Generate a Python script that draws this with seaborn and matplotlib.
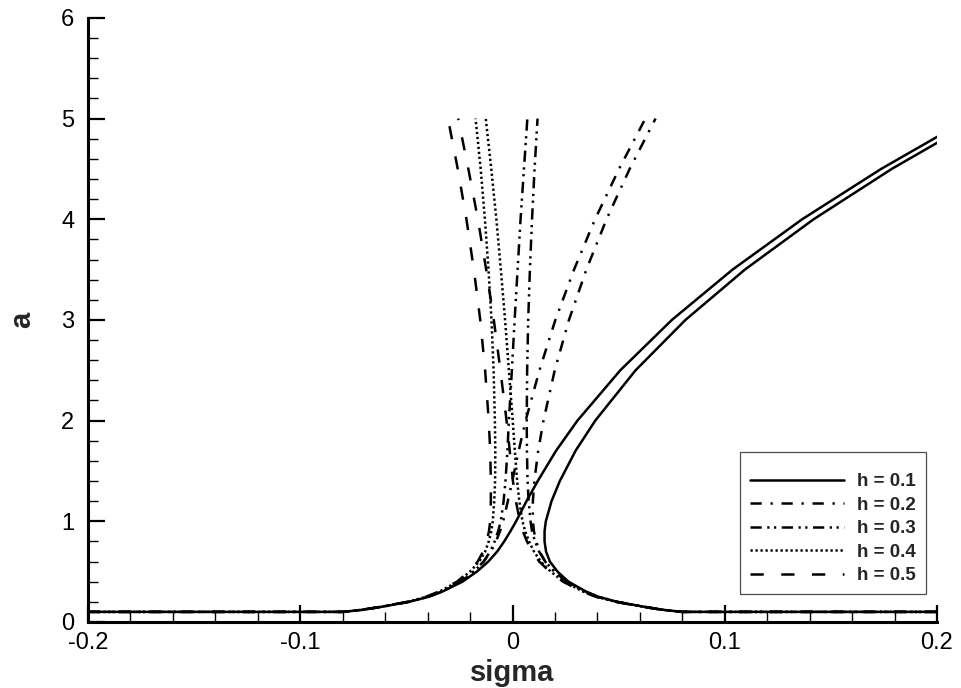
import pandas as pd
import matplotlib
matplotlib.use("Agg")
import matplotlib.pyplot as plt
import seaborn as sns
from matplotlib.ticker import MultipleLocator

# amplitude levels (first entry repeated: flat part of the curve at a = 0.1)
a_levels = [0.1, 0.1, 0.12, 0.15, 0.2, 0.25, 0.3, 0.4, 0.5, 0.6, 0.7, 0.8, 0.9,
            1.0, 1.2, 1.4, 1.7, 2.0, 2.5, 3.0, 3.5, 4.0, 4.5, 5.0]

# sigma, left and right branch of each curve
h01_left = [-0.2, -0.0799, -0.0709, -0.0618, -0.0487, -0.0395, -0.0332, -0.0236, -0.0168,
            -0.0114, -0.0072, -0.0039, -0.0010, 0.0017, 0.0066, 0.0119, 0.0205, 0.0306,
            0.0508, 0.0751, 0.1037, 0.1365, 0.1737, 0.2151]
h01_right = [0.2, 0.0801, 0.0711, 0.0622, 0.0493, 0.0405, 0.0348, 0.0264, 0.0212,
             0.0176, 0.0158, 0.0151, 0.0151, 0.0157, 0.0184, 0.0223, 0.0297, 0.0390,
             0.0580, 0.0815, 0.1095, 0.1419, 0.1787, 0.2199]
h02_left = [-0.2, -0.0800, -0.0710, -0.0619, -0.0489, -0.0398, -0.0338, -0.0246, -0.0184,
            -0.0136, -0.0102, -0.0078, -0.0059, -0.0044, -0.0022, -0.0001, 0.0029, 0.0062,
            0.0127, 0.0202, 0.0290, 0.0389, 0.0502, 0.0626]
h02_right = [0.2, 0.0800, 0.0710, 0.0621, 0.0491, 0.0402, 0.0342, 0.0254, 0.0197,
             0.0154, 0.0128, 0.0112, 0.0101, 0.0096, 0.0096, 0.0103, 0.0121, 0.0146,
             0.0199, 0.0266, 0.0348, 0.0443, 0.0552, 0.0674]
h03_left = [-0.2, -0.0798, -0.0708, -0.0617, -0.0487, -0.0396, -0.0335, -0.0244, -0.0182,
            -0.0136, -0.0105, -0.0084, -0.0068, -0.0055, -0.0042, -0.0033, -0.0024, -0.0017,
            -0.0003, 0.0010, 0.0024, 0.0038, 0.0054, 0.0070]
h03_right = [0.2, 0.0802, 0.0712, 0.0623, 0.0493, 0.0404, 0.0345, 0.0256, 0.0198,
             0.0154, 0.0125, 0.0106, 0.0092, 0.0085, 0.0076, 0.0071, 0.0068, 0.0067,
             0.0069, 0.0074, 0.0082, 0.0092, 0.0104, 0.0118]
h04_left = [-0.2, -0.0802, -0.0712, -0.0623, -0.0494, -0.0405, -0.0346, -0.0258, -0.0200,
            -0.0157, -0.0129, -0.0112, -0.0100, -0.0093, -0.0086, -0.0082, -0.0081, -0.0083,
            -0.0089, -0.0099, -0.0113, -0.0130, -0.0150, -0.0174]
h04_right = [0.2, 0.0798, 0.0708, 0.0617, 0.0486, 0.0395, 0.0334, 0.0242, 0.0180,
             0.0133, 0.0101, 0.0078, 0.0060, 0.0047, 0.0032, 0.0022, 0.0011, 0.0001,
             -0.0017, -0.0035, -0.0055, -0.0076, -0.0100, -0.0126]
h05_left = [-0.2, -0.0803, -0.0714, -0.0625, -0.0496, -0.0408, -0.0349, -0.0262, -0.0205,
            -0.0164, -0.0138, -0.0122, -0.0111, -0.0105, -0.0102, -0.0102, -0.0105, -0.0112,
            -0.0129, -0.0152, -0.0182, -0.0217, -0.0258, -0.0304]
h05_right = [0.2, 0.0797, 0.0706, 0.0615, 0.0484, 0.0392, 0.0331, 0.0238, 0.0175,
             0.0126, 0.0092, 0.0068, 0.0049, 0.0035, 0.0016, 0.0002, -0.0013, -0.0028,
             -0.0057, -0.0088, -0.0124, -0.0163, -0.0208, -0.0256]

h_labels = ["h = 0.1", "h = 0.2", "h = 0.3", "h = 0.4", "h = 0.5"]
branches = {
    "h = 0.1": (h01_left, h01_right),
    "h = 0.2": (h02_left, h02_right),
    "h = 0.3": (h03_left, h03_right),
    "h = 0.4": (h04_left, h04_right),
    "h = 0.5": (h05_left, h05_right),
}

x_ticks = [-0.2, -0.1, 0, 0.1, 0.2]
x_tick_labels = ["-0.2", "-0.1", "0", "0.1", "0.2"]
y_ticks = [0, 1, 2, 3, 4, 5, 6]
y_tick_labels = ["0", "1", "2", "3", "4", "5", "6"]

frames = []
for h in h_labels:
    left, right = branches[h]
    for name, sig in (("left", left), ("right", right)):
        frames.append(pd.DataFrame({"sigma": sig, "a": a_levels, "h": h,
                                    "branch": h + name}))
df = pd.concat(frames, ignore_index=True)

"""
plot
"""
sns.set_theme(style="white")
plt.rcParams["font.family"] = ["Liberation Sans", "DejaVu Sans"]
plt.rcParams["axes.unicode_minus"] = False

dash_styles = {
    "h = 0.1": "",
    "h = 0.2": (4.5, 3.5, 0.9, 3.5),
    "h = 0.3": (4.5, 2.2, 0.9, 1.8, 0.9, 2.2),
    "h = 0.4": (0.9, 1.1),
    "h = 0.5": (5.3, 7),
}

fig, ax = plt.subplots(figsize=(9.61, 6.88), dpi=100)
fig.subplots_adjust(left=0.0916, right=0.975, bottom=0.096, top=0.974)

sns.lineplot(data=df, x="sigma", y="a", style="h", style_order=h_labels,
             units="branch", estimator=None, sort=False, dashes=dash_styles,
             color="black", linewidth=1.8, ax=ax)

ax.set_xlim(-0.2, 0.2)
ax.set_ylim(0, 6)
ax.set_xticks(x_ticks)
ax.set_xticklabels(x_tick_labels)
ax.set_yticks(y_ticks)
ax.set_yticklabels(y_tick_labels)
ax.xaxis.set_minor_locator(MultipleLocator(0.02))
ax.yaxis.set_minor_locator(MultipleLocator(0.2))
ax.tick_params(which="major", direction="in", length=12, width=1.6,
               labelsize=17, color="black", labelcolor="black")
ax.tick_params(which="minor", direction="in", length=7.5, width=1.0, color="black")
ax.tick_params(axis="x", which="major", pad=7)
ax.tick_params(axis="y", which="major", pad=10)
ax.tick_params(top=False, right=False, bottom=True, left=True, which="both")

sns.despine(ax=ax)
for side in ["left", "bottom"]:
    ax.spines[side].set_linewidth(2.2)
    ax.spines[side].set_color("black")

ax.set_xlabel("sigma", fontsize=21, fontweight="bold", labelpad=4)
ax.set_ylabel("a", fontsize=21, fontweight="bold", labelpad=18)

handles, labels = ax.get_legend_handles_labels()
keep = [(hd, lb) for hd, lb in zip(handles, labels) if lb in h_labels]
leg = ax.legend([k[0] for k in keep], [k[1] for k in keep],
                loc="lower right", bbox_to_anchor=(0.987, 0.046), borderaxespad=0,
                frameon=True, fancybox=False, edgecolor="#222222",
                prop={"size": 13.5, "weight": "bold"}, handlelength=5.0,
                handletextpad=0.7, labelspacing=0.34, borderpad=0.53,
                title=" ", title_fontsize=4)
leg.get_frame().set_linewidth(0.9)

plt.savefig("out.png", dpi=100)
plt.close()
